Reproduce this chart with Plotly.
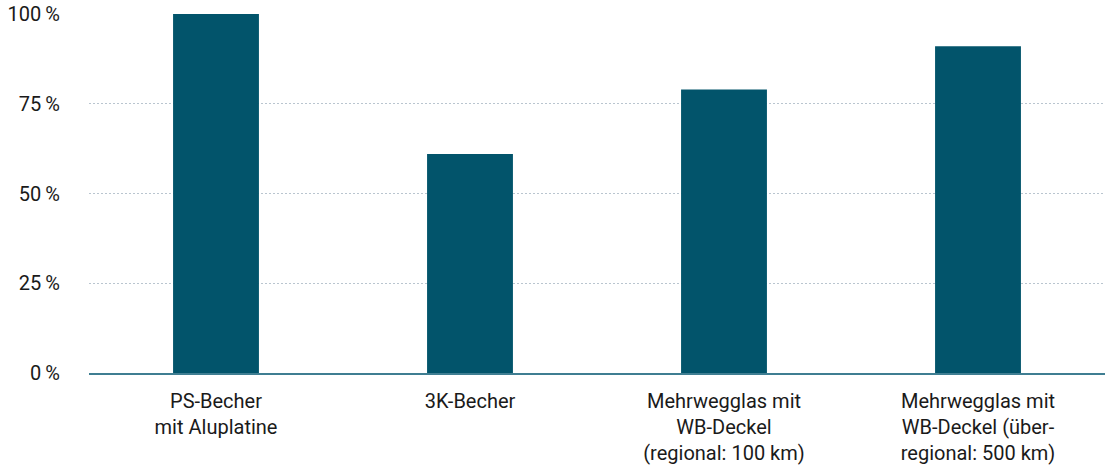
import plotly.graph_objects as go

categories = ["PS-Becher<br>mit Aluplatine", "3K-Becher",
              "Mehrwegglas mit<br>WB-Deckel<br>(regional: 100 km)",
              "Mehrwegglas mit<br>WB-Deckel (über-<br>regional: 500 km)"]
values = [100, 61, 79, 91]
tick_vals = [0, 25, 50, 75, 100]
tick_text = ["0\u2009%", "25\u2009%", "50\u2009%", "75\u2009%", "100\u2009%"]

fig = go.Figure(go.Bar(x=categories, y=values, marker_color="#02546b",
                       marker_line_width=0, hoverinfo="skip"))

fig.update_layout(
    width=1106, height=467,
    margin=dict(l=89, r=1, t=14, b=94),
    paper_bgcolor="white", plot_bgcolor="white",
    bargap=0.662,
    showlegend=False,
    font=dict(family="Roboto", size=20, color="#1a1a1a"),
)
fig.update_xaxes(showline=True, linecolor="#3f7e92", linewidth=1.5,
                 showgrid=False, ticks="", ticklabelstandoff=9)
fig.update_yaxes(range=[0, 100], tickvals=tick_vals, ticktext=tick_text,
                 showgrid=True, gridcolor="#b9c5cf", griddash="2px,2px", gridwidth=1,
                 zeroline=False, showline=False, ticks="", ticklabelstandoff=28)

fig.write_html("out.html")
